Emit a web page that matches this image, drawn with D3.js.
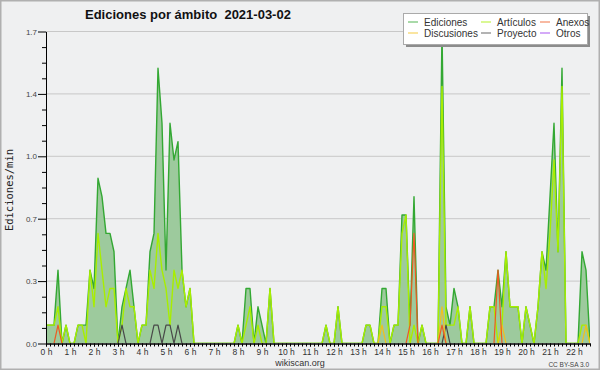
<!DOCTYPE html>
<html>
<head>
<meta charset="UTF-8">
<script src="https://d3js.org/d3.v7.min.js"></script>
<style>
  body { margin: 0; }
  svg { display: block; }
</style>
</head>
<body>
<svg id="canvas"></svg>
<script>

// edits counted per 10 minute slot, 00:00 -> 22:40 (137 slots)
slotMinutes = 10;

ediciones = [
  1,1,1,4,0,1,0,0,1,1,1,4,
  3,9,8,6,6,5,0,2,3,4,2,0,
  1,1,5,6,15,12,4,12,10,11,4,2,
  3,0,0,0,0,0,0,0,0,0,0,0,
  1,0,3,3,0,2,1,0,3,0,0,0,
  0,0,0,0,0,0,0,0,0,0,1,0,
  0,2,0,0,0,0,0,0,1,1,0,0,
  3,3,0,1,1,7,7,1,8,0,1,0,
  0,0,0,17,2,1,3,2,0,0,2,0,
  0,0,0,2,2,4,2,5,2,2,2,0,
  2,1,0,2,5,4,8,12,5,15,0,0,
  0,0,5,4,0
];

articulos = [
  1,1,1,2,0,1,0,0,1,1,0,4,
  2,6,4,2,3,3,0,1,3,2,2,0,
  1,1,4,3,6,4,3,1,4,3,4,2,
  3,0,0,0,0,0,0,0,0,0,0,0,
  1,0,1,2,0,1,0,0,3,0,0,0,
  0,0,0,0,0,0,0,0,0,0,1,0,
  0,2,0,0,0,0,0,0,1,1,0,0,
  2,2,0,1,1,6,7,0,1,0,1,0,
  0,0,0,14,1,1,1,2,0,0,2,0,
  0,0,0,2,2,0,1,5,2,2,2,0,
  2,1,0,2,5,3,6,10,5,14,0,0,
  0,0,1,1,0
];

anexos = [
  0,0,0,1,0,0,0,0,0,0,0,0,
  0,0,0,0,0,0,0,0,0,0,0,0,
  0,0,0,0,0,0,0,0,0,0,0,0,
  0,0,0,0,0,0,0,0,0,0,0,0,
  0,0,0,0,0,0,0,0,0,0,0,0,
  0,0,0,0,0,0,0,0,0,0,0,0,
  0,0,0,0,0,0,0,0,0,0,0,0,
  0,0,0,0,0,0,0,1,6,0,0,0,
  0,0,0,1,0,0,0,0,0,0,0,0,
  0,0,0,0,0,4,0,0,0,0,0,0,
  0,0,0,0,0,0,0,0,0,0,0,0,
  0,0,0,0,0
];

discusiones = [
  0,0,0,0,0,0,0,0,0,0,0,0,
  0,0,0,0,0,0,0,0,0,0,0,0,
  0,0,0,0,0,0,0,0,0,0,0,0,
  0,0,0,0,0,0,0,0,0,0,0,0,
  0,0,0,0,0,0,0,0,0,0,0,0,
  0,0,0,0,0,0,0,0,0,0,0,0,
  0,0,0,0,0,0,0,0,0,0,0,0,
  1,0,0,0,0,0,0,0,0,0,0,0,
  0,0,0,2,0,0,0,0,0,0,0,0,
  0,0,0,0,0,0,1,0,0,0,0,0,
  0,0,0,0,0,0,0,0,0,0,0,0,
  0,0,0,1,0
];

proyecto = [
  0,0,0,0,0,0,0,0,0,0,0,0,
  0,0,0,0,0,0,0,1,0,0,0,0,
  0,0,0,1,1,0,1,1,0,1,0,0,
  0,0,0,0,0,0,0,0,0,0,0,0,
  0,0,0,0,0,0,0,0,0,0,0,0,
  0,0,0,0,0,0,0,0,0,0,0,0,
  0,0,0,0,0,0,0,0,0,0,0,0,
  0,0,0,0,0,0,0,0,0,0,0,0,
  0,0,0,0,1,0,0,0,0,0,0,0,
  0,0,0,0,0,0,0,0,0,0,0,0,
  0,0,0,0,0,0,0,0,0,0,0,0,
  0,0,0,0,0
];

otros = [
  0,0,0,0,0,0,0,0,0,0,0,0,
  0,0,0,0,0,0,0,0,0,0,0,0,
  0,0,0,0,0,0,0,0,0,0,0,0,
  0,0,0,0,0,0,0,0,0,0,0,0,
  0,0,0,0,0,0,0,0,0,0,0,0,
  0,0,0,0,0,0,0,0,0,0,0,0,
  0,0,0,0,0,0,0,0,0,0,0,0,
  0,0,0,0,0,0,0,0,0,0,0,0,
  0,0,0,0,0,0,0,0,0,0,0,0,
  0,0,0,0,0,0,0,0,0,0,0,0,
  0,0,0,0,0,0,0,0,0,0,0,0,
  0,0,0,0,0
];

hourLabels = ["0 h","1 h","2 h","3 h","4 h","5 h","6 h","7 h","8 h","9 h","10 h","11 h",
              "12 h","13 h","14 h","15 h","16 h","17 h","18 h","19 h","20 h","21 h","22 h"];
yTicks = [0, 0.34, 0.68, 1.02, 1.36, 1.7];
yTickLabels = ["0.0","0.3","0.7","1.0","1.4","1.7"];

width = 600;
height = 370;
margin = {left:46, right:10, top:31.5, bottom:26.5};

canvas = d3.select("#canvas")
    .attr("width", width)
    .attr("height", height);

canvas.append("rect")
    .attr("width", width).attr("height", height)
    .attr("style", "fill:#eff0f1; stroke:#b0b0b0; stroke-width:3;");

x = d3.scaleLinear()
    .domain([0, ediciones.length - 1])
    .range([margin.left, width - margin.right]);

y = d3.scaleLinear()
    .domain([0, 1.7])
    .range([height - margin.bottom, margin.top]);

// horizontal grid
canvas.append("g")
    .selectAll("line")
    .data(yTicks.slice(1))
    .enter().append("line")
        .attr("x1", margin.left).attr("x2", width - margin.right)
        .attr("y1", y).attr("y2", y)
        .attr("style", "stroke:#c8c8c8; stroke-width:1;");

canvas.append("clipPath").attr("id", "plot")
    .append("rect")
        .attr("x", margin.left).attr("y", 0)
        .attr("width", width - margin.left - margin.right)
        .attr("height", height - margin.bottom - 0.5);

chart = canvas.append("g").attr("clip-path", "url(#plot)");

rate = (d) => d / slotMinutes;

area = d3.area()
    .x((d, i) => x(i))
    .y0(y(0))
    .y1((d) => y(rate(d)));

line = d3.line()
    .x((d, i) => x(i))
    .y((d) => y(rate(d)));

chart.append("path")
    .datum(ediciones)
    .attr("d", area)
    .attr("style", "fill:#9dca9d;");

series = [
    {name:"Ediciones",   data:ediciones,   color:"#33a833", w:1.4},
    {name:"Artículos",   data:articulos,   color:"#a8ee00", w:1.4},
    {name:"Otros",       data:otros,       color:"#9933ee", w:1.2},
    {name:"Proyecto",    data:proyecto,    color:"#484848", w:1.2},
    {name:"Discusiones", data:discusiones, color:"#f2c01c", w:1.2},
    {name:"Anexos",      data:anexos,      color:"#ee5a22", w:1.2}
];

series.forEach(function(s) {
    chart.append("path")
        .datum(s.data)
        .attr("d", line)
        .attr("style", "fill:none; stroke:" + s.color + "; stroke-width:" + s.w + "; stroke-linejoin:round;");
});

// x axis: a tick per slot, labels each hour
canvas.append("g")
    .attr("transform", "translate(0," + y(0) + ")")
    .call(d3.axisBottom(x).tickValues(d3.range(0, ediciones.length)).tickSize(3).tickSizeOuter(0).tickFormat(""));

canvas.append("g")
    .attr("transform", "translate(0," + y(0) + ")")
    .call(d3.axisBottom(x)
        .tickValues(hourLabels.map((d, i) => i * 60 / slotMinutes))
        .tickSize(3).tickSizeOuter(0).tickPadding(2)
        .tickFormat((d, i) => hourLabels[i]))
    .call((g) => g.selectAll("text").attr("style", "font: 8.5px 'Liberation Sans'; fill:#333;"));

// y axis: minor ticks between labelled ones
minor = [];
yTicks.slice(1).forEach(function(t, i) {
    var step = (t - yTicks[i]) / 4;
    for (var k = 1; k < 4; k++) minor.push(yTicks[i] + k * step);
});

canvas.append("g")
    .attr("transform", "translate(" + margin.left + ",0)")
    .call(d3.axisLeft(y).tickValues(minor).tickSize(4).tickSizeOuter(0).tickFormat(""));

canvas.append("g")
    .attr("transform", "translate(" + margin.left + ",0)")
    .call(d3.axisLeft(y).tickValues(yTicks).tickSize(8).tickSizeOuter(0).tickPadding(1)
        .tickFormat((d, i) => yTickLabels[i]))
    .call((g) => g.selectAll("text").attr("style", "font: 8px 'Liberation Sans'; fill:#444;"));

canvas.selectAll(".domain").attr("style", "stroke:#000;");
canvas.selectAll(".tick line").attr("style", "stroke:#000;");

canvas.append("text")
    .text("Ediciones por ámbito  2021-03-02")
    .attr("x", 85).attr("y", 19)
    .attr("style", "font: bold 13px 'Liberation Sans'; fill:#111; white-space:pre;");

canvas.append("text")
    .text("Ediciones/min")
    .attr("transform", "translate(13,190) rotate(-90)")
    .attr("style", "font: 10.5px 'DejaVu Sans Mono'; fill:#222; text-anchor:middle;");

canvas.append("text")
    .text("wikiscan.org")
    .attr("x", 300).attr("y", 366)
    .attr("style", "font: 9px 'Liberation Sans'; fill:#333; text-anchor:middle;");

canvas.append("text")
    .text("CC BY-SA 3.0")
    .attr("x", 589).attr("y", 367)
    .attr("style", "font: 6.5px 'Liberation Sans'; fill:#444; text-anchor:end;");

// legend
legend = canvas.append("g");
legend.append("rect")
    .attr("x", 406).attr("y", 16).attr("width", 184).attr("height", 31)
    .attr("style", "fill:#8c8c8c;");
legend.append("rect")
    .attr("x", 403.5).attr("y", 13.5).attr("width", 184).attr("height", 31)
    .attr("style", "fill:#fff; stroke:#aaa; stroke-width:1;");

legendOrder = ["Ediciones","Artículos","Anexos","Discusiones","Proyecto","Otros"];
colX = [408, 481, 540];
rowY = [22, 33];

legendOrder.forEach(function(name, i) {
    var s = series.find((d) => d.name == name);
    var cx = colX[i % 3], cy = rowY[Math.floor(i / 3)];
    legend.append("line")
        .attr("x1", cx).attr("x2", cx + 10)
        .attr("y1", cy).attr("y2", cy)
        .attr("style", "stroke:" + s.color + "; stroke-width:1.2; stroke-opacity:0.7;");
    legend.append("text")
        .text(name)
        .attr("x", cx + 16).attr("y", cy + 3.5)
        .attr("style", "font: 10px 'Liberation Sans'; fill:#333;");
});

</script>
</body>
</html>
